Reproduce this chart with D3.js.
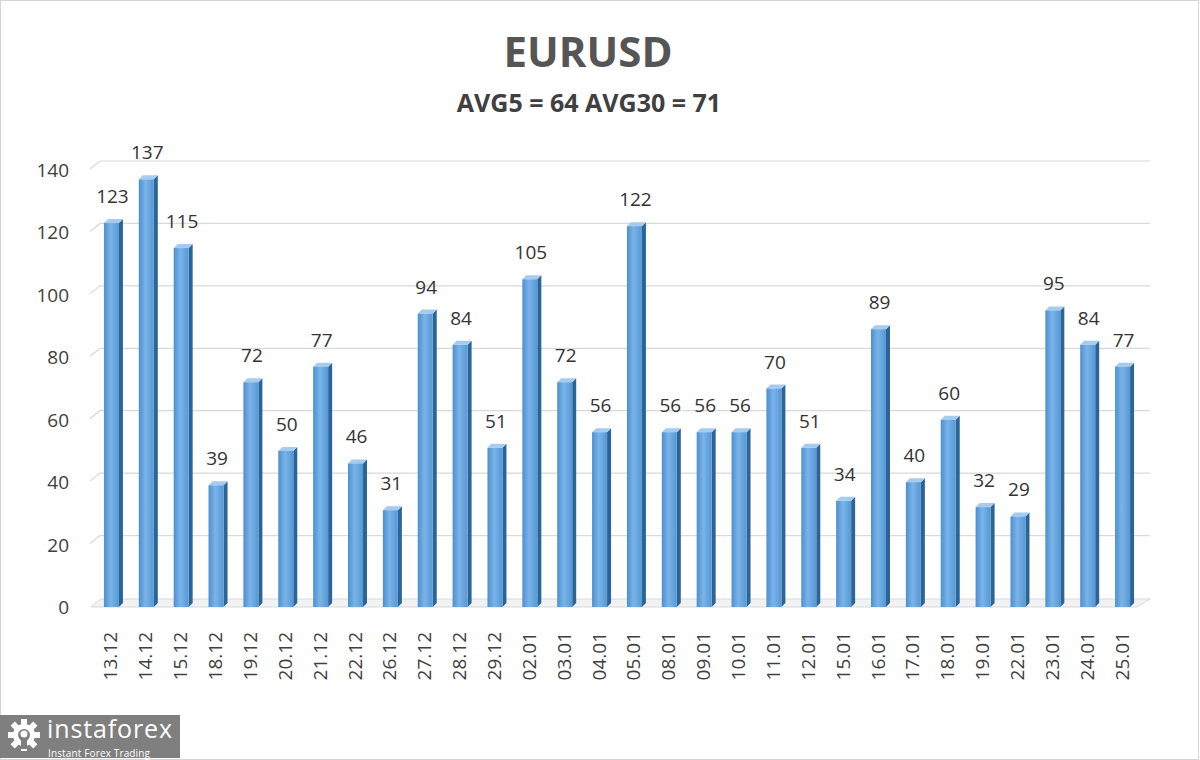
<!DOCTYPE html>
<html><head><meta charset="utf-8">
<script src="https://cdn.jsdelivr.net/npm/d3@7"></script>
<style>html,body{margin:0;padding:0;background:#fff;}svg{display:block;}</style>
</head><body>
<svg id="chart" width="1200" height="760"></svg>
<script>
const title = "EURUSD";
const subtitle = "AVG5 = 64 AVG30 = 71";
const categories = ["13.12","14.12","15.12","18.12","19.12","20.12","21.12","22.12","26.12","27.12","28.12","29.12","02.01","03.01","04.01","05.01","08.01","09.01","10.01","11.01","12.01","15.01","16.01","17.01","18.01","19.01","22.01","23.01","24.01","25.01"];
const values = [123,137,115,39,72,50,77,46,31,94,84,51,105,72,56,122,56,56,56,70,51,34,89,40,60,32,29,95,84,77];
const yTicks = [0,20,40,60,80,100,120,140];

const svg = d3.select("#chart");
const font = "'Open Sans', sans-serif";

svg.append("rect").attr("x",0.5).attr("y",0.5).attr("width",1198).attr("height",759)
  .attr("fill","#fff").attr("stroke","#d4d4d4");

const x = d3.scaleBand().domain(categories).range([95,1141]).padding(0);
const y = d3.scaleLinear().domain([0,140]).range([607,170]);
const bw = 15, dx = 4, dy = 4;
const gdx = 10, gdy = 8;

const defs = svg.append("defs");
const g1 = defs.append("linearGradient").attr("id","front").attr("x1","0").attr("x2","1").attr("y1","0").attr("y2","0");
g1.append("stop").attr("offset","0").attr("stop-color","#4d8fd0");
g1.append("stop").attr("offset","0.45").attr("stop-color","#7ab4e8");
g1.append("stop").attr("offset","1").attr("stop-color","#5598d6");

// floor
svg.append("path")
  .attr("d", `M91,${y(0)} L1137,${y(0)} L${1137+gdx+3},${y(0)-gdy} L${91+gdx},${y(0)-gdy} Z`)
  .attr("fill","#f2f2f2").attr("stroke","#d9d9d9");

// gridlines
const grid = svg.append("g");
yTicks.filter(t=>t>0).forEach(t=>{
  grid.append("path")
    .attr("d", `M90,${y(t)-1} L${90+gdx},${y(t)-1-gdy} L1150,${y(t)-1-gdy}`)
    .attr("fill","none").attr("stroke","#d9d9d9").attr("stroke-width",1.2);
});

// y labels
svg.append("g").selectAll("text").data(yTicks).join("text")
  .attr("x",69).attr("y",d=>y(d)+7)
  .attr("text-anchor","end").attr("font-family",font).attr("font-size",19)
  .attr("fill","#404040").text(d=>d);

// bars
const bars = svg.append("g").selectAll("g").data(values).join("g");
const bx = (d,i)=> x(categories[i]) + (x.bandwidth()-bw)/2 - 1;
bars.append("path").attr("d",(d,i)=>{
  const x0=bx(d,i)+bw, yt=y(d), yb=y(0);
  return `M${x0},${yt} L${x0+dx},${yt-dy} L${x0+dx},${yb-dy} L${x0},${yb} Z`;
}).attr("fill","#2c6496");
bars.append("path").attr("d",(d,i)=>{
  const x0=bx(d,i), yt=y(d);
  return `M${x0},${yt} L${x0+dx},${yt-dy} L${x0+bw+dx},${yt-dy} L${x0+bw},${yt} Z`;
}).attr("fill","#a5ccee");
bars.append("rect").attr("x",(d,i)=>bx(d,i)).attr("y",d=>y(d))
  .attr("width",bw).attr("height",d=>y(0)-y(d)).attr("fill","url(#front)");

// value labels
svg.append("g").selectAll("text").data(values).join("text")
  .attr("x",(d,i)=>bx(d,i)+bw/2+1).attr("y",d=>y(d)-20)
  .attr("text-anchor","middle").attr("font-family",font).attr("font-size",19)
  .attr("fill","#333").text(d=>d);

// x labels
svg.append("g").selectAll("text").data(categories).join("text")
  .attr("transform",(d)=>`translate(${x(d)+x.bandwidth()/2+5},632) rotate(-90)`)
  .attr("text-anchor","end").attr("font-family",font).attr("font-size",19)
  .attr("fill","#404040").text(d=>d);

// titles
svg.append("text").attr("x",588).attr("y",67).attr("text-anchor","middle")
  .attr("font-family",font).attr("font-weight","bold").attr("font-size",42)
  .attr("fill","#555").text(title);
svg.append("text").attr("x",589).attr("y",112).attr("text-anchor","middle")
  .attr("font-family",font).attr("font-weight","bold").attr("font-size",25)
  .attr("fill","#404040").text(subtitle);

// logo
const logo = svg.append("g");
logo.append("rect").attr("x",0).attr("y",715).attr("width",180).attr("height",43).attr("fill","#7f7f7f");
const gear = logo.append("g").attr("transform","translate(24,735)");
d3.range(8).forEach(k=>{
  gear.append("rect").attr("x",-3).attr("y",-16).attr("width",6).attr("height",7)
    .attr("fill","#fff").attr("transform",`rotate(${k*45})`);
});
gear.append("circle").attr("r",11).attr("fill","#fff");
gear.append("circle").attr("r",6).attr("fill","#7f7f7f");
gear.append("rect").attr("x",-3).attr("y",-2).attr("width",6).attr("height",16).attr("fill","#7f7f7f");
gear.append("circle").attr("r",3.5).attr("cy",-1).attr("fill","#fff");
logo.append("text").attr("x",47).attr("y",738).attr("font-family",font).attr("font-size",25)
  .attr("textLength",125).attr("fill","#fff").text("instaforex");
logo.append("text").attr("x",48).attr("y",757).attr("font-family",font).attr("font-size",10)
  .attr("textLength",102).attr("fill","#fff").text("Instant Forex Trading");
</script>
</body></html>
